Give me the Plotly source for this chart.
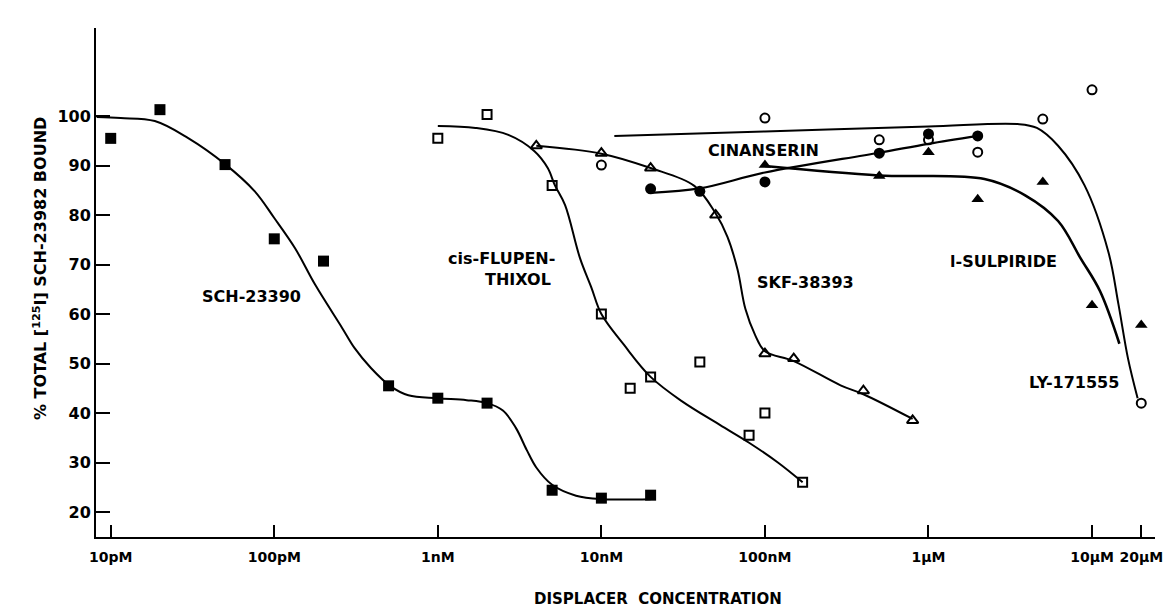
import plotly.graph_objects as go

# ---- data (concentration in M, % bound) ----
sch_x = [1e-11, 2e-11, 5e-11, 1e-10, 2e-10, 5e-10, 1e-9, 2e-9, 5e-9, 1e-8, 2e-8]
sch_y = [95.5, 101.3, 90.2, 75.2, 70.7, 45.5, 43.0, 42.0, 24.4, 22.8, 23.4]
sch_fit_x = [8.2e-12, 1.15e-11, 1.86e-11, 2.96e-11, 5e-11, 7.6e-11, 1e-10, 1.34e-10, 1.78e-10,
             2.6e-10, 3.1e-10, 3.9e-10, 5.1e-10, 6.6e-10, 1e-9, 1.5e-9, 2e-9, 2.5e-9, 3e-9,
             3.5e-9, 4e-9, 5e-9, 7e-9, 1e-8, 2e-8]
sch_fit_y = [99.8, 99.6, 99.0, 95.6, 90.3, 84.8, 79.4, 73.3, 65.9,
             57.2, 53.1, 49.1, 45.5, 43.6, 43.0, 42.6, 42.0, 40.5, 37.0,
             32.5, 29.0, 25.5, 23.3, 22.6, 22.6]

flu_x = [1e-9, 2e-9, 5e-9, 1e-8, 1.5e-8, 2e-8, 4e-8, 8e-8, 1e-7, 1.7e-7]
flu_y = [95.5, 100.3, 86.0, 60.0, 45.0, 47.3, 50.3, 35.5, 40.0, 26.0]
flu_fit_x = [1e-9, 1.7e-9, 2.7e-9, 3.9e-9, 4.7e-9, 5.2e-9, 6e-9, 7.4e-9, 8.7e-9, 1e-8,
             1.38e-8, 2e-8, 3.1e-8, 5.3e-8, 8e-8, 1.2e-7, 1.7e-7]
flu_fit_y = [98.0, 97.6, 96.2, 92.9, 89.5, 86.0, 82.0, 71.3, 65.3, 60.0,
             53.7, 47.3, 42.4, 37.6, 34.0, 30.0, 26.0]

skf_x = [4e-9, 1e-8, 2e-8, 5e-8, 1e-7, 1.5e-7, 4e-7, 8e-7]
skf_y = [94.0, 92.5, 89.5, 80.0, 52.0, 51.0, 44.5, 38.5]
skf_fit_x = [4e-9, 1e-8, 2e-8, 3.7e-8, 5e-8, 5.9e-8, 6.8e-8, 7.6e-8, 8.7e-8, 1e-7, 1.5e-7,
             2.9e-7, 4e-7, 8e-7]
skf_fit_y = [94.0, 92.4, 89.5, 85.9, 80.3, 75.6, 69.0, 61.0, 55.8, 52.5, 50.5,
             45.6, 43.8, 38.8]

cin_x = [2e-8, 4e-8, 1e-7, 5e-7, 1e-6, 2e-6]
cin_y = [85.3, 84.8, 86.7, 92.5, 96.4, 96.0]
cin_fit_x = [2e-8, 4e-8, 1e-7, 5e-7, 1e-6, 2e-6]
cin_fit_y = [84.5, 85.4, 88.6, 92.6, 94.4, 96.0]

ly_x = [1e-8, 1e-7, 5e-7, 1e-6, 2e-6, 5e-6, 1e-5, 2e-5]
ly_y = [90.1, 99.6, 95.2, 95.2, 92.7, 99.4, 105.3, 42.0]
ly_fit_x = [1.2e-8, 1e-7, 1e-6, 3.5e-6, 4.6e-6, 6.2e-6, 9e-6, 1.26e-5, 1.45e-5, 1.66e-5, 1.9e-5]
ly_fit_y = [96.0, 96.9, 97.9, 98.4, 97.6, 94.0, 86.0, 72.5, 62.0, 51.0, 43.0]

sul_x = [1e-7, 5e-7, 1e-6, 2e-6, 5e-6, 1e-5, 2e-5]
sul_y = [90.1, 87.9, 92.7, 83.2, 86.7, 61.8, 57.8]
sul_fit_x = [1e-7, 5e-7, 2.2e-6, 3.9e-6, 6.2e-6, 8.5e-6, 1.12e-5, 1.47e-5]
sul_fit_y = [89.9, 88.0, 87.3, 84.0, 78.8, 71.3, 64.6, 54.0]

tick_vals = [1e-11, 1e-10, 1e-9, 1e-8, 1e-7, 1e-6, 1e-5, 2e-5]
tick_text = ["10pM", "100pM", "1nM", "10nM", "100nM", "1µM", "10µM", "20µM"]
y_ticks = [20, 30, 40, 50, 60, 70, 80, 90, 100]

FONT = "DejaVu Sans"
fig = go.Figure()

fits = [(sch_fit_x, sch_fit_y, 2), (flu_fit_x, flu_fit_y, 2), (skf_fit_x, skf_fit_y, 2),
        (cin_fit_x, cin_fit_y, 2.2), (ly_fit_x, ly_fit_y, 2), (sul_fit_x, sul_fit_y, 2.6)]
for fx, fy, w in fits:
    fig.add_trace(go.Scatter(x=fx, y=fy, mode="lines",
                             line=dict(color="black", width=w, shape="spline", smoothing=1.0),
                             hoverinfo="skip"))

series = [
    (sch_x, sch_y, "square", 11, 0, "SCH-23390"),
    (flu_x, flu_y, "square-open", 9, 2, "cis-Flupenthixol"),
    (skf_x, skf_y, "triangle-up-open", 10, 2, "SKF-38393"),
    (cin_x, cin_y, "circle", 11, 0, "Cinanserin"),
    (ly_x, ly_y, "circle-open", 9, 2, "LY-171555"),
    (sul_x, sul_y, "triangle-up", 11, 0, "l-Sulpiride"),
]
for sx, sy, sym, size, lw, name in series:
    fig.add_trace(go.Scatter(x=sx, y=sy, mode="markers", name=name,
                             marker=dict(symbol=sym, size=size, color="black",
                                         line=dict(color="black", width=lw))))

labels = [
    ("SCH-23390", -10.14, 63.6),
    ("cis-FLUPEN-", -8.61, 71.3),
    ("THIXOL", -8.51, 66.9),
    ("SKF-38393", -6.75, 66.3),
    ("CINANSERIN", -7.01, 93.1),
    ("l-SULPIRIDE", -5.54, 70.7),
    ("LY-171555", -5.11, 46.1),
]
for txt, lx, ly in labels:
    fig.add_annotation(x=lx, y=ly, xref="x", yref="y", text=txt, showarrow=False,
                       xanchor="center", yanchor="middle",
                       font=dict(family=FONT, size=16, color="black", weight="bold"))

fig.add_annotation(x=-0.053, y=0.528, xref="paper", yref="paper",
                   text="% TOTAL [<sup>125</sup>I] SCH-23982 BOUND", textangle=-90,
                   showarrow=False, xanchor="center", yanchor="middle",
                   font=dict(family=FONT, size=16, color="black", weight="bold"))
fig.add_annotation(x=0.531, y=-0.122, xref="paper", yref="paper",
                   text="DISPLACER  CONCENTRATION", showarrow=False,
                   xanchor="center", yanchor="middle",
                   font=dict(family=FONT, size=15, color="black", weight="bold"))

fig.update_xaxes(type="log", range=[-11.09, -4.615], tickvals=tick_vals, ticktext=tick_text,
                 showline=True, linecolor="black", linewidth=2, ticks="inside", ticklen=12,
                 tickwidth=2, tickcolor="black", showgrid=False, zeroline=False,
                 ticklabelstandoff=6,
                 tickfont=dict(family=FONT, size=14, color="black", weight="bold"))
fig.update_yaxes(range=[14.95, 117.8], tickvals=y_ticks, showline=True, linecolor="black",
                 linewidth=2, ticks="inside", ticklen=14, tickwidth=2, tickcolor="black",
                 showgrid=False, zeroline=False,
                 tickfont=dict(family=FONT, size=16, color="black", weight="bold"))

fig.update_layout(width=1175, height=607, margin=dict(l=88, r=28, t=20, b=78),
                  plot_bgcolor="white", paper_bgcolor="white", showlegend=False)

fig.write_html("out.html")
